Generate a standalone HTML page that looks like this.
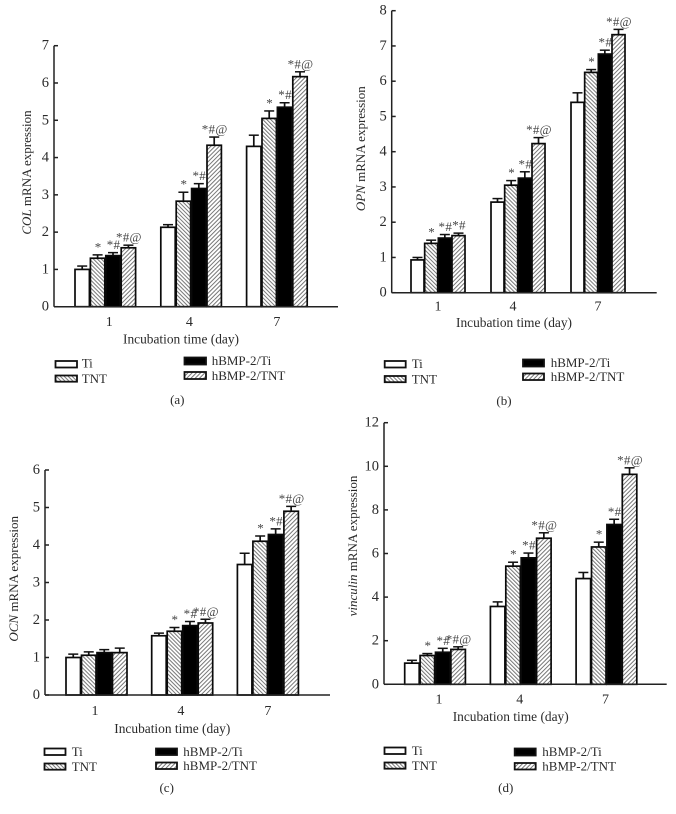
<!DOCTYPE html>
<html lang="en">
<head>
<meta charset="utf-8">
<title>mRNA expression bar charts</title>
<style>
  html, body { margin: 0; padding: 0; background: #fff; }
  #figure { display: block; width: 676px; height: 814px; }
  text { font-family: "Liberation Serif", serif; font-size: 13px; fill: #2a2a2a; }
  .tt { text-anchor: middle; }
  .xt { font-size: 13.4px; }
  .axis { stroke: #222; stroke-width: 1.5; fill: none; }
  .sw { stroke: #111; stroke-width: 1.8; }
</style>
</head>
<body>
<svg id="figure" xmlns="http://www.w3.org/2000/svg" width="676" height="814" viewBox="0 0 676 814">
  <defs>
    <pattern id="hatch-back" patternUnits="userSpaceOnUse" width="2.8" height="2.8" patternTransform="rotate(-45)">
      <rect width="2.8" height="2.8" fill="#fff"/>
      <rect width="1" height="2.8" fill="#777"/>
    </pattern>
    <pattern id="hatch-fwd" patternUnits="userSpaceOnUse" width="3" height="3" patternTransform="rotate(45)">
      <rect width="3" height="3" fill="#fff"/>
      <rect width="1" height="3" fill="#777"/>
    </pattern>
  </defs>

  <g id="panel-a">
    <text class="tt xt" x="181" y="343.5">Incubation time (day)</text>
    <text class="tt" transform="translate(31,172.5) rotate(-90)"><tspan font-style="italic">COL</tspan> mRNA expression</text>
    <g>
      <rect class="sw" x="55.5" y="361" width="21.5" height="6.5" fill="#fff"/>
      <text x="81.7" y="367.5">Ti</text>
      <rect class="sw" x="55.5" y="375.5" width="21.5" height="6.2" fill="url(#hatch-back)"/>
      <text x="81.7" y="383">TNT</text>
      <rect class="sw" x="184.5" y="357.5" width="21.5" height="7" fill="#000"/>
      <text x="211.7" y="365">hBMP-2/Ti</text>
      <rect class="sw" x="184.5" y="372" width="21.5" height="7" fill="url(#hatch-fwd)"/>
      <text x="211.7" y="380">hBMP-2/TNT</text>
    </g>
    <text class="tt" x="177.3" y="404">(a)</text>
  </g>

  <g id="panel-b">
    <text class="tt xt" x="514" y="327">Incubation time (day)</text>
    <text class="tt" transform="translate(365,148.7) rotate(-90)"><tspan font-style="italic">OPN</tspan> mRNA expression</text>
    <g>
      <rect class="sw" x="384.7" y="361" width="21" height="6.5" fill="#fff"/>
      <text x="411.7" y="368">Ti</text>
      <rect class="sw" x="384.7" y="376" width="21" height="6.2" fill="url(#hatch-back)"/>
      <text x="411.7" y="383.5">TNT</text>
      <rect class="sw" x="523" y="359.5" width="21" height="7" fill="#000"/>
      <text x="550.7" y="367">hBMP-2/Ti</text>
      <rect class="sw" x="523" y="373.5" width="21" height="6.5" fill="url(#hatch-fwd)"/>
      <text x="550.7" y="381">hBMP-2/TNT</text>
    </g>
    <text class="tt" x="504" y="405">(b)</text>
  </g>

  <g id="panel-c">
    <text class="tt xt" x="172.3" y="733">Incubation time (day)</text>
    <text class="tt" transform="translate(18,578.8) rotate(-90)"><tspan font-style="italic">OCN</tspan> mRNA expression</text>
    <g>
      <rect class="sw" x="44.5" y="748.5" width="21" height="6.5" fill="#fff"/>
      <text x="71.7" y="756">Ti</text>
      <rect class="sw" x="44.5" y="763.5" width="21" height="6.2" fill="url(#hatch-back)"/>
      <text x="71.7" y="771">TNT</text>
      <rect class="sw" x="156" y="748.5" width="21" height="6.5" fill="#000"/>
      <text x="183.3" y="756">hBMP-2/Ti</text>
      <rect class="sw" x="156" y="762.5" width="21" height="6.5" fill="url(#hatch-fwd)"/>
      <text x="183.3" y="770">hBMP-2/TNT</text>
    </g>
    <text class="tt" x="166.7" y="792">(c)</text>
  </g>

  <g id="panel-d">
    <text class="tt xt" x="510.7" y="721">Incubation time (day)</text>
    <text class="tt" transform="translate(357,546) rotate(-90)"><tspan font-style="italic">vinculin</tspan> mRNA expression</text>
    <g>
      <rect class="sw" x="384.5" y="747.5" width="21" height="6.5" fill="#fff"/>
      <text x="411.7" y="755">Ti</text>
      <rect class="sw" x="384.5" y="762.5" width="21" height="6.2" fill="url(#hatch-back)"/>
      <text x="411.7" y="770">TNT</text>
      <rect class="sw" x="514.7" y="748.5" width="21" height="7" fill="#000"/>
      <text x="542.3" y="756">hBMP-2/Ti</text>
      <rect class="sw" x="514.7" y="763" width="21" height="6.5" fill="url(#hatch-fwd)"/>
      <text x="542.3" y="770.5">hBMP-2/TNT</text>
    </g>
    <text class="tt" x="505.7" y="792">(d)</text>
  </g>
</svg>

<script>
// Shared categories and series
const categories = ['1', '4', '7'];
const seriesNames = ['ti', 'tnt', 'hbmp-ti', 'hbmp-tnt'];

// Tick labels
const colTicks = [0, 1, 2, 3, 4, 5, 6, 7];
const opnTicks = [0, 1, 2, 3, 4, 5, 6, 7, 8];
const ocnTicks = [0, 1, 2, 3, 4, 5, 6];
const vinculinTicks = [0, 2, 4, 6, 8, 10, 12];

// Means: one row per day, one column per series
const colValues = [[1.00, 1.30, 1.37, 1.58], [2.13, 2.83, 3.17, 4.33], [4.30, 5.05, 5.35, 6.17]];
const opnValues = [[0.93, 1.40, 1.55, 1.62], [2.57, 3.05, 3.25, 4.23], [5.40, 6.25, 6.77, 7.32]];
const ocnValues = [[1.00, 1.06, 1.13, 1.13], [1.58, 1.70, 1.85, 1.92], [3.48, 4.10, 4.28, 4.90]];
const vinculinValues = [[0.97, 1.32, 1.47, 1.60], [3.57, 5.42, 5.80, 6.70], [4.85, 6.30, 7.33, 9.63]];

// Error bar lengths
const colErrors = [[0.09, 0.09, 0.08, 0.07], [0.07, 0.24, 0.13, 0.22], [0.30, 0.20, 0.12, 0.13]];
const opnErrors = [[0.07, 0.09, 0.10, 0.07], [0.10, 0.13, 0.18, 0.17], [0.27, 0.08, 0.11, 0.15]];
const ocnErrors = [[0.09, 0.09, 0.08, 0.12], [0.07, 0.10, 0.11, 0.10], [0.30, 0.14, 0.15, 0.13]];
const vinculinErrors = [[0.13, 0.09, 0.18, 0.12], [0.21, 0.18, 0.22, 0.25], [0.28, 0.22, 0.24, 0.30]];

// Significance labels
const colMarks = [['', '*', '*#', '*#@'], ['', '*', '*#', '*#@'], ['', '*', '*#', '*#@']];
const opnMarks = [['', '*', '*#', '*#'], ['', '*', '*#', '*#@'], ['', '*', '*#', '*#@']];
const ocnMarks = [['', '', '', ''], ['', '*', '*#', '*#@'], ['', '*', '*#', '*#@']];
const vinculinMarks = [['', '*', '*#', '*#@'], ['', '*', '*#', '*#@'], ['', '*', '*#', '*#@']];

const SVG_NS = 'http://www.w3.org/2000/svg';
const seriesFills = ['#fff', 'url(#hatch-back)', '#000', 'url(#hatch-fwd)'];

function make(parent, tag, attrs) {
  const el = document.createElementNS(SVG_NS, tag);
  for (const k in attrs) el.setAttribute(k, attrs[k]);
  parent.appendChild(el);
  return el;
}

function drawPanel(panelId, ticks, values, errors, marks, frame) {
  const panel = document.getElementById(panelId);
  const yScale = v => frame.yZero - (v / ticks[ticks.length - 1]) * (frame.yZero - frame.yTop);
  const xScale = (g, s) => frame.barStart + g * frame.groupStep + s * frame.barStep;

  values.forEach((row, g) => {
    row.forEach((value, s) => {
      const x = xScale(g, s);
      const top = yScale(value);
      const errTop = yScale(value + errors[g][s]);
      const cx = x + frame.barWidth / 2;

      const stem = make(panel, 'line', { x1: cx, x2: cx, y1: top, y2: errTop, stroke: '#111', 'stroke-width': 1.7 });
      
      

      const cap = make(panel, 'line', { x1: cx - 5, x2: cx + 5, y1: errTop, y2: errTop, stroke: '#111', 'stroke-width': 1.5 });
      
      

      const bar = make(panel, 'rect', { x: x, y: top, width: frame.barWidth, height: frame.yZero - top, fill: seriesFills[s], stroke: '#0a0a0a', 'stroke-width': 1.7 });
      
      

      if (marks[g][s]) {
        const mark = make(panel, 'text', { x: cx + 0.5, y: errTop - 3.5, 'text-anchor': 'middle', style: 'font-size:13px;fill:#444;letter-spacing:0.3px' });
        mark.textContent = marks[g][s];
        
        
      }
    });
  });

  const yAxis = make(panel, 'line', { class: 'axis', x1: frame.xAxis, x2: frame.xAxis, y1: frame.yTop, y2: frame.yZero });
  
  

  const xAxis = make(panel, 'line', { class: 'axis', x1: frame.xAxis, x2: frame.xEnd, y1: frame.yZero, y2: frame.yZero });
  
  

  ticks.forEach(t => {
    const y = yScale(t);
    const tick = make(panel, 'line', { class: 'axis', x1: frame.xAxis, x2: frame.xAxis + 4, y1: y, y2: y });
    
    

    const label = make(panel, 'text', { x: frame.xAxis - 5, y: y + 4, 'text-anchor': 'end', style: 'font-size:14.5px' });
    label.textContent = t;
    
    
  });

  categories.forEach((c, g) => {
    const center = xScale(g, 0) + (3 * frame.barStep + frame.barWidth) / 2 + frame.labelNudge[g];
    const label = make(panel, 'text', { x: center, y: frame.labelY, 'text-anchor': 'middle', style: 'font-size:14px' });
    label.textContent = c;
    
    
  });
}

drawPanel('panel-a', colTicks, colValues, colErrors, colMarks, {
  xAxis: 54, xEnd: 338, yZero: 306.7, yTop: 45.7,
  barStart: 75, groupStep: 85.8, barStep: 15.4, barWidth: 14.4,
  labelY: 326, labelNudge: [4, -1.7, 0]
});
drawPanel('panel-b', opnTicks, opnValues, opnErrors, opnMarks, {
  xAxis: 391.7, xEnd: 656.7, yZero: 292.7, yTop: 10.7,
  barStart: 411, groupStep: 80, barStep: 13.67, barWidth: 13,
  labelY: 310.5, labelNudge: [0, -5, 0]
});
drawPanel('panel-c', ocnTicks, ocnValues, ocnErrors, ocnMarks, {
  xAxis: 45, xEnd: 330, yZero: 695, yTop: 470,
  barStart: 66, groupStep: 85.7, barStep: 15.5, barWidth: 14.5,
  labelY: 715, labelNudge: [-1.5, -1.3, 0]
});
drawPanel('panel-d', vinculinTicks, vinculinValues, vinculinErrors, vinculinMarks, {
  xAxis: 384, xEnd: 666.7, yZero: 684.3, yTop: 422.7,
  barStart: 404.7, groupStep: 85.7, barStep: 15.4, barWidth: 14.5,
  labelY: 703.5, labelNudge: [4, -1, -1]
});
</script>
</body>
</html>
